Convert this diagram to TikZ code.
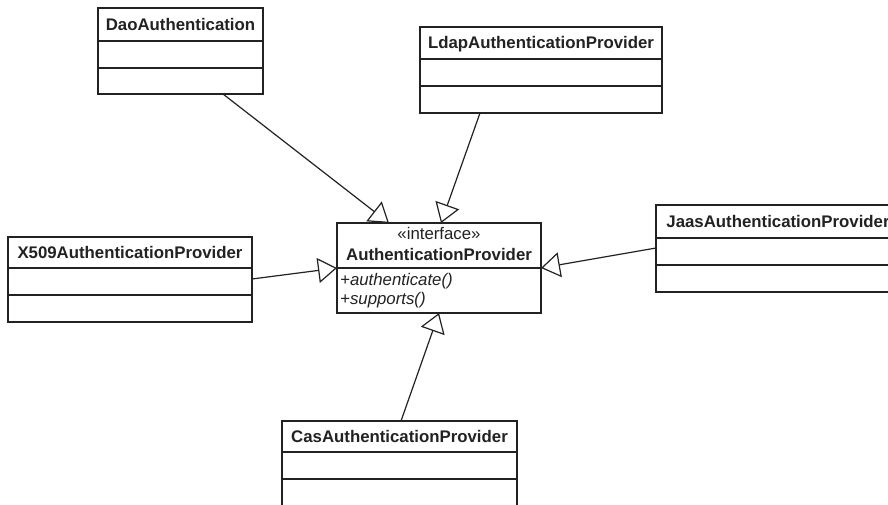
\documentclass[tikz,border=0pt]{standalone}
\usepackage{fontspec}
\setmainfont{Liberation Sans}
\usetikzlibrary{arrows.meta,calc}
\definecolor{ink}{HTML}{222222}
\newcommand\umlclass[8]{%
  \node[box, minimum width={#4-#2}, minimum height={#5-#3}] (#1) at (#2,#3) {};
  \draw[sep] (#2,#6) -- (#4,#6);
  \draw[sep] (#2,#7) -- (#4,#7);
  \node[title] (#1-name) at ({(#2+#4)/2},{(#3+#6)/2+5.5}) {#8};
}
\begin{document}
\begin{tikzpicture}[x=1pt,y=-1pt,
  box/.style={draw=ink, line width=1.2pt, inner sep=0pt, outer sep=0pt, anchor=north west},
  sep/.style={draw=ink, line width=1.2pt},
  title/.style={anchor=base, font=\fontsize{16.8}{20}\selectfont\bfseries, text=ink, inner sep=0pt},
  stereo/.style={anchor=base, font=\fontsize{16.8}{20}\selectfont, text=ink, inner sep=0pt},
  op/.style={anchor=base west, font=\fontsize{16.8}{20}\selectfont\itshape, text=ink, inner sep=0pt},
  gen/.style={draw=ink, line width=1.2pt, -{Triangle[fill=white, length=19pt, width=25pt]}}
]
\fill[white] (0,0) rectangle (888,504);
\useasboundingbox (0,0) rectangle (888,504);
\clip (0,0) rectangle (888,504);

\umlclass{dao}{98}{8}{263}{94}{41}{68}{DaoAuthentication}
\umlclass{ldap}{420}{27}{662}{113}{59}{86}{LdapAuthenticationProvider}
\umlclass{xfive}{8}{237}{252}{322}{268}{295}{X509AuthenticationProvider}
\umlclass{jaas}{656}{205}{900}{292}{238}{265}{JaasAuthenticationProvider}
\umlclass{cas}{282}{421}{517}{507}{452}{479}{CasAuthenticationProvider}

\node[box, minimum width=204, minimum height=90] (ifc) at (337,223) {};
\draw[sep] (337,268) -- (541,268);
\node[stereo] (ifc-st) at (439,239) {«interface»};
\node[title] (ifc-name) at (439,260) {AuthenticationProvider};
\node[op] (op1) at (340,285) {+authenticate()};
\node[op] (op2) at (340,304) {+supports()};

\draw[gen] ($(dao.south west)+(125,0)$) -- ($(ifc.north west)+(52,0)$);
\draw[gen] ($(ldap.south west)+(60,0)$) -- ($(ifc.north west)+(104,0)$);
\draw[gen] ($(xfive.north east)+(0,42)$) -- ($(ifc.north west)+(0,45)$);
\draw[gen] ($(jaas.north west)+(0,43)$) -- ($(ifc.north east)+(0,45)$);
\draw[gen] ($(cas.north west)+(119,0)$) -- ($(ifc.south west)+(102,0)$);
\end{tikzpicture}
\end{document}
